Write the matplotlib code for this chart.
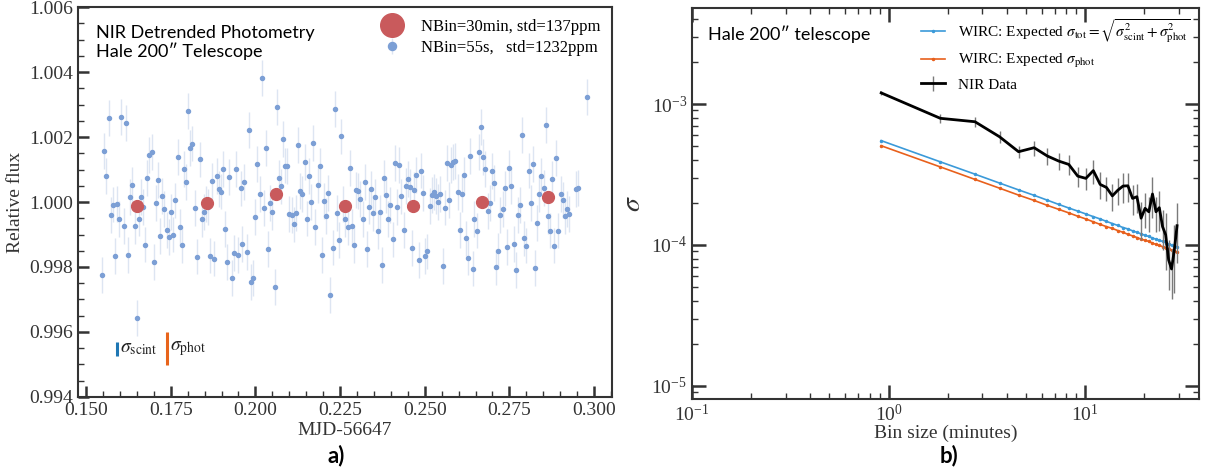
import matplotlib
matplotlib.use('Agg')
import matplotlib.pyplot as plt
from matplotlib.ticker import MultipleLocator, FormatStrFormatter, LogLocator, NullFormatter

plt.rcParams['font.family'] = ['Liberation Serif', 'DejaVu Serif']
plt.rcParams['mathtext.fontset'] = 'stix'

# --- panel a: detrended light curve (55 s cadence) ---
mjd = [0.1548, 0.1554, 0.1560, 0.1567, 0.1573, 0.1580, 0.1586, 0.1592, 0.1598, 0.1604,
       0.1611, 0.1618, 0.1624, 0.1630, 0.1637, 0.1643, 0.1650, 0.1656, 0.1661, 0.1668,
       0.1675, 0.1681, 0.1687, 0.1694, 0.1700, 0.1707, 0.1713, 0.1719, 0.1725, 0.1731,
       0.1738, 0.1744, 0.1751, 0.1757, 0.1764, 0.1770, 0.1777, 0.1783, 0.1789, 0.1795,
       0.1801, 0.1808, 0.1814, 0.1821, 0.1828, 0.1835, 0.1842, 0.1847, 0.1854, 0.1860,
       0.1866, 0.1873, 0.1879, 0.1886, 0.1892, 0.1899, 0.1904, 0.1911, 0.1917, 0.1923,
       0.1930, 0.1936, 0.1943, 0.1949, 0.1956, 0.1961, 0.1967, 0.1974, 0.1980, 0.1987,
       0.1993, 0.2000, 0.2006, 0.2013, 0.2019, 0.2025, 0.2031, 0.2038, 0.2044, 0.2050,
       0.2057, 0.2063, 0.2070, 0.2076, 0.2082, 0.2088, 0.2094, 0.2100, 0.2107, 0.2113,
       0.2120, 0.2127, 0.2133, 0.2139, 0.2146, 0.2152, 0.2158, 0.2164, 0.2171, 0.2177,
       0.2184, 0.2190, 0.2197, 0.2203, 0.2209, 0.2215, 0.2221, 0.2228, 0.2234, 0.2240,
       0.2247, 0.2254, 0.2260, 0.2266, 0.2273, 0.2278, 0.2285, 0.2291, 0.2297, 0.2304,
       0.2310, 0.2317, 0.2323, 0.2330, 0.2335, 0.2341, 0.2348, 0.2354, 0.2361, 0.2367,
       0.2374, 0.2380, 0.2387, 0.2392, 0.2398, 0.2405, 0.2411, 0.2417, 0.2424, 0.2431,
       0.2438, 0.2444, 0.2450, 0.2457, 0.2462, 0.2469, 0.2475, 0.2482, 0.2488, 0.2495,
       0.2501, 0.2507, 0.2515, 0.2521, 0.2527, 0.2533, 0.2540, 0.2546, 0.2553, 0.2559,
       0.2565, 0.2572, 0.2578, 0.2584, 0.2590, 0.2597, 0.2603, 0.2610, 0.2616, 0.2622,
       0.2629, 0.2635, 0.2642, 0.2647, 0.2653, 0.2660, 0.2666, 0.2673, 0.2679, 0.2686,
       0.2692, 0.2699, 0.2704, 0.2711, 0.2717, 0.2723, 0.2730, 0.2736, 0.2743, 0.2750,
       0.2756, 0.2763, 0.2769, 0.2775, 0.2781, 0.2787, 0.2794, 0.2800, 0.2807, 0.2813,
       0.2819, 0.2826, 0.2831, 0.2838, 0.2844, 0.2851, 0.2857, 0.2864, 0.2870, 0.2876,
       0.2883, 0.2888, 0.2895, 0.2901, 0.2908, 0.2914, 0.2920, 0.2927, 0.2947, 0.2952,
       0.2978]
flux = [0.99775, 1.00158, 1.00081, 1.00258, 0.99960, 0.99992, 0.99834, 0.99993, 0.99948, 1.00262,
        0.99927, 1.00244, 0.99836, 1.00016, 1.00052, 0.99927, 0.99644, 0.99949, 1.00016, 0.99984,
        0.99869, 1.00073, 1.00144, 1.00155, 0.99816, 0.99997, 1.00067, 0.99895, 1.00019, 0.99979,
        0.99915, 0.99892, 0.99969, 0.99900, 1.00005, 1.00139, 0.99923, 0.99867, 1.00101, 1.00061,
        1.00281, 1.00166, 1.00180, 0.99982, 0.99832, 1.00131, 0.99948, 0.99970, 0.99993, 0.99985,
        0.99835, 1.00065, 0.99826, 1.00080, 1.00039, 1.00032, 1.00102, 0.99917, 0.99815, 1.00077,
        0.99766, 0.99844, 1.00102, 0.99838, 1.00042, 0.99871, 1.00061, 0.99846, 1.00222, 0.99754,
        0.99767, 0.99954, 1.00117, 1.00025, 1.00381, 0.99982, 1.00166, 0.99856, 0.99998, 0.99968,
        0.99739, 1.00292, 1.00075, 1.00048, 1.00195, 1.00112, 1.00110, 0.99964, 0.99960, 0.99931,
        0.99967, 1.00176, 1.00034, 1.00025, 1.00123, 0.99949, 1.00079, 1.00001, 1.00182, 0.99922,
        1.00052, 1.00111, 0.99836, 1.00003, 0.99956, 1.00028, 0.99714, 0.99860, 1.00287, 0.99966,
        0.99884, 1.00202, 0.99995, 0.99948, 0.99922, 1.00105, 0.99925, 0.99868, 1.00037, 1.00034,
        1.00010, 0.99947, 1.00062, 0.99856, 0.99986, 1.00039, 0.99966, 1.00015, 0.99911, 0.99968,
        0.99806, 1.00074, 1.00022, 0.99947, 0.99990, 0.99885, 1.00120, 0.99984, 1.00115, 1.00017,
        0.99915, 1.00050, 1.00070, 1.00047, 0.99858, 1.00038, 1.00084, 0.99822, 1.00097, 1.00027,
        0.99833, 0.99848, 0.99988, 1.00022, 1.00030, 1.00018, 1.00001, 1.00024, 0.99803, 0.99983,
        1.00120, 1.00007, 1.00115, 1.00123, 1.00127, 1.00030, 0.99915, 1.00024, 1.00084, 0.99888,
        0.99829, 1.00142, 0.99795, 0.99947, 0.99912, 1.00155, 1.00232, 1.00139, 1.00101, 0.99973,
        0.99996, 1.00096, 1.00058, 0.99801, 0.99849, 0.99959, 0.99978, 1.00042, 0.99862, 1.00104,
        1.00050, 0.99870, 0.99790, 0.99959, 0.99991, 1.00207, 0.99888, 0.99866, 1.00097, 0.99998,
        1.00116, 0.99798, 0.99936, 1.00024, 1.00081, 1.00043, 1.00238, 0.99958, 0.99912, 1.00072,
        0.99866, 1.00135, 0.99912, 1.00024, 1.00006, 0.99958, 0.99979, 0.99963, 1.00039, 1.00044,
        1.00324]
flux_err = 0.00055

# 30 min bins
mjd_bin = [0.1650, 0.1856, 0.2060, 0.2264, 0.2466, 0.2669, 0.2863]
flux_bin = [0.99989, 0.99996, 1.00024, 0.99988, 0.99988, 1.00000, 1.00015]

# --- panel b: rms vs bin size ---
bin_min = [0.917, 1.833, 2.750, 3.667, 4.583, 5.500, 6.417, 7.333, 8.250, 9.167,
           10.08, 11.00, 11.92, 12.83, 13.75, 14.67, 15.58, 16.50, 17.42, 18.33,
           19.25, 20.17, 21.08, 22.00, 22.92, 23.83, 24.75, 25.67, 26.58, 27.50,
           28.42, 29.33]
sig_tot = [5.50e-4, 3.89e-4, 3.18e-4, 2.75e-4, 2.46e-4, 2.25e-4, 2.08e-4, 1.94e-4, 1.83e-4, 1.74e-4,
           1.66e-4, 1.59e-4, 1.53e-4, 1.47e-4, 1.42e-4, 1.375e-4, 1.33e-4, 1.30e-4, 1.26e-4, 1.23e-4,
           1.20e-4, 1.17e-4, 1.15e-4, 1.12e-4, 1.10e-4, 1.08e-4, 1.06e-4, 1.04e-4, 1.02e-4, 1.00e-4,
           0.988e-4, 0.972e-4]
sig_phot = [5.06e-4, 3.58e-4, 2.92e-4, 2.53e-4, 2.26e-4, 2.07e-4, 1.91e-4, 1.79e-4, 1.69e-4, 1.60e-4,
            1.53e-4, 1.46e-4, 1.40e-4, 1.35e-4, 1.31e-4, 1.265e-4, 1.23e-4, 1.19e-4, 1.16e-4, 1.13e-4,
            1.10e-4, 1.08e-4, 1.06e-4, 1.03e-4, 1.01e-4, 0.992e-4, 0.974e-4, 0.956e-4, 0.940e-4, 0.924e-4,
            0.909e-4, 0.894e-4]
sig_data = [1.20e-3, 7.92e-4, 7.49e-4, 5.86e-4, 4.59e-4, 4.90e-4, 4.28e-4, 3.94e-4, 3.73e-4, 3.08e-4,
            2.97e-4, 3.37e-4, 2.69e-4, 2.56e-4, 2.23e-4, 2.45e-4, 2.62e-4, 2.63e-4, 2.14e-4, 2.20e-4,
            1.55e-4, 1.82e-4, 1.72e-4, 2.30e-4, 1.72e-4, 1.84e-4, 1.35e-4, 1.18e-4, 7.83e-5, 6.76e-5,
            9.23e-5, 1.37e-4]
sig_data_err = [4.0e-5, 5.3e-5, 6.4e-5, 6.0e-5, 4.7e-5, 5.9e-5, 5.6e-5, 5.5e-5, 5.9e-5, 4.9e-5,
                5.3e-5, 6.6e-5, 5.8e-5, 5.0e-5, 4.8e-5, 5.3e-5, 6.2e-5, 6.2e-5, 5.1e-5, 5.2e-5,
                4.6e-5, 5.1e-5, 4.8e-5, 7.4e-5, 4.8e-5, 5.9e-5, 4.3e-5, 5.1e-5, 3.0e-5, 2.6e-5,
                4.7e-5, 6.2e-5]

spine_col = '#333333'

fig = plt.figure(figsize=(12.22, 4.72), dpi=100)
ax1 = fig.add_axes([0.0638, 0.159, 0.437, 0.826])
ax2 = fig.add_axes([0.5663, 0.155, 0.415, 0.828])

# left panel
h_blue = ax1.errorbar(mjd, flux, yerr=flux_err, fmt='o', ms=2.9, color='#7c9fd5',
                      ecolor='#dde5f2', elinewidth=1, capsize=0, zorder=2,
                      label='NBin=55s,   std=1232ppm')
h_red, = ax1.plot(mjd_bin, flux_bin, 'o', ms=8.5, color='#c95a5c', zorder=3,
                  label='NBin=30min, std=137ppm')

ax1.errorbar([0.1592], [0.99548], yerr=0.00022, fmt='none', ecolor='#1f77b4', elinewidth=2.2, capsize=0)
ax1.text(0.1600, 0.99548, r'$\sigma_{\rm scint}$', fontsize=14, va='center', ha='left', color='#222222')
ax1.errorbar([0.1740], [0.99549], yerr=0.00051, fmt='none', ecolor='#e8641b', elinewidth=2.2, capsize=0)
ax1.text(0.1748, 0.99548, r'$\sigma_{\rm phot}$', fontsize=14, va='center', ha='left', color='#222222')

ax1.set_xlim(0.1476, 0.3053)
ax1.set_ylim(0.994, 1.006)
ax1.xaxis.set_major_locator(MultipleLocator(0.025))
ax1.xaxis.set_minor_locator(MultipleLocator(0.005))
ax1.yaxis.set_major_locator(MultipleLocator(0.002))
ax1.yaxis.set_minor_locator(MultipleLocator(0.0005))
ax1.xaxis.set_major_formatter(FormatStrFormatter('%.3f'))
ax1.yaxis.set_major_formatter(FormatStrFormatter('%.3f'))
ax1.tick_params(which='both', direction='in', top=False, right=False, colors=spine_col, labelsize=14)
ax1.tick_params(which='major', length=8, width=1.8)
ax1.tick_params(which='minor', length=4, width=1.0)
ax1.set_xlabel('MJD-56647', fontsize=14, color='#333333', labelpad=2)
ax1.set_ylabel('Relative flux', fontsize=14, color='#333333', labelpad=4)
for s in ax1.spines.values():
    s.set_color(spine_col)
    s.set_linewidth(1.5)

ax1.text(0.033, 0.955, 'NIR Detrended Photometry\nHale 200\u2033 Telescope', transform=ax1.transAxes,
         family=['Lato', 'DejaVu Sans'], fontsize=13, va='top', ha='left', linespacing=1.15)
ax1.legend(handles=[h_red, h_blue], loc='upper right', frameon=False, fontsize=12,
           markerscale=2.0, handletextpad=0.7, borderaxespad=0.3, labelspacing=0.3,
           bbox_to_anchor=(1.0, 1.0))

# right panel
ax2.plot(bin_min, sig_tot, '-', marker='.', ms=3, color='#3b9ad9', lw=1.2,
         label=r'WIRC: Expected $\sigma_{\rm tot} = \sqrt{\sigma_{\rm scint}^2 + \sigma_{\rm phot}^2}$')
ax2.plot(bin_min, sig_phot, '-', marker='.', ms=3, color='#e8601c', lw=1.2,
         label=r'WIRC: Expected $\sigma_{\rm phot}$')
ax2.errorbar(bin_min, sig_data, yerr=sig_data_err, color='black', lw=2, ecolor='#7a7a7a',
             elinewidth=1, capsize=0, label='NIR Data')

ax2.set_xscale('log')
ax2.set_yscale('log')
ax2.set_xlim(0.1, 38)
ax2.set_ylim(8.1e-6, 4.8e-3)
for axis in (ax2.xaxis, ax2.yaxis):
    axis.set_major_locator(LogLocator(base=10, numticks=10))
    axis.set_minor_locator(LogLocator(base=10, subs=range(2, 10), numticks=100))
    axis.set_minor_formatter(NullFormatter())
ax2.tick_params(which='both', direction='in', top=True, right=True, colors=spine_col, labelsize=14)
ax2.tick_params(which='major', length=10, width=1.8)
ax2.tick_params(which='minor', length=4, width=1.0)
ax2.set_xlabel('Bin size (minutes)', fontsize=14, color='#333333', labelpad=0)
ax2.set_ylabel(r'$\sigma$', fontsize=20, color='#333333', labelpad=4)
for s in ax2.spines.values():
    s.set_color(spine_col)
    s.set_linewidth(1.5)

ax2.text(0.032, 0.955, 'Hale 200\u2033 telescope', transform=ax2.transAxes,
         family=['Lato', 'DejaVu Sans'], fontsize=13, va='top', ha='left')
ax2.legend(loc='upper right', frameon=False, fontsize=11, handlelength=1.6,
           handletextpad=0.8, labelspacing=0.5, borderaxespad=0.2)

fig.text(0.275, 0.034, 'a)', family=['Lato', 'DejaVu Sans'], fontsize=16, weight='bold', ha='center', va='center')
fig.text(0.777, 0.034, 'b)', family=['Lato', 'DejaVu Sans'], fontsize=16, weight='bold', ha='center', va='center')

fig.savefig('out.png', dpi=100)
